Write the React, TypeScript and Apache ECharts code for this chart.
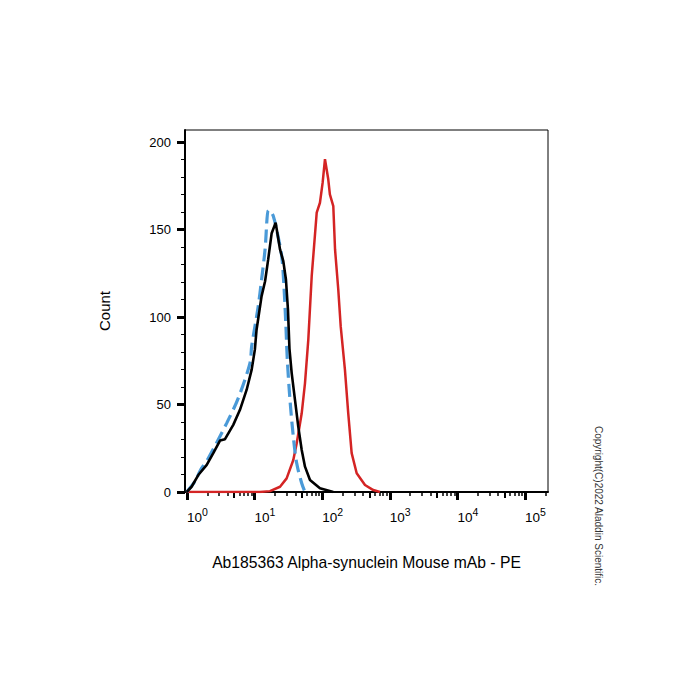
import React, { useEffect, useRef } from "react";
import * as echarts from "echarts";

// ---- data ----
const blackX = [0.99, 1.17, 1.47, 1.96, 2.45, 3.08, 3.65, 4.84, 6.08, 7.64, 9.06, 10.1, 10.7, 12.7, 14.3, 15.9, 17.9, 20.5, 23.8, 26.6, 29.1, 31.2, 32.8, 35.4, 39.6, 44.3, 49.8, 55.7, 66.0, 92.7, 146];
const blackY = [0, 3, 9.7, 15.5, 22.2, 29.4, 30.2, 38.4, 47, 58.5, 70, 81.4, 92.8, 112, 120.5, 133, 148, 154, 138.7, 132, 121.5, 104, 82, 68, 52.7, 37.4, 24, 14.5, 6.9, 2.1, 0];

const blueX = [0.99, 1.31, 1.61, 2.05, 3.87, 5.74, 8.55, 9.06, 11.3, 12.7, 14.3, 16.0, 17.3, 18.9, 21.2, 25.2, 27.2, 29.1, 30.5, 33.4, 37.4, 42.0, 49.8, 55.7];
const blueY = [0, 6, 13, 19, 39.4, 53.7, 73.7, 83.3, 106, 121.5, 138.7, 161, 160.5, 157.8, 150, 134.8, 117.7, 94.7, 75.6, 52.7, 31.7, 16.4, 5, 0];

const redX = [0.99, 12.0, 16.9, 23.8, 29.8, 37.4, 42.0, 49.8, 55.7, 62.3, 70.0, 83.0, 92.7, 101.6, 110, 123, 130, 146, 155, 173, 188, 217, 243, 273, 324, 430, 570, 716];
const redY = [0, 0, 0.5, 3, 7.8, 18.3, 27.9, 45, 62.3, 87, 123.4, 159.7, 165.4, 176.9, 190.3, 178.8, 170.2, 163.5, 138.7, 115.8, 94.7, 70, 45, 22.2, 10.7, 4, 1.1, 0];

const xMajorTicks = [1, 10, 100, 1000, 10000, 100000];
const xMidTicks = [5, 50, 500, 5000, 50000];
const xMinorTicks = [2, 3, 4, 6, 7, 8, 9, 20, 30, 40, 60, 70, 80, 90, 200, 300, 400, 600, 700, 800, 900, 2000, 3000, 4000, 6000, 7000, 8000, 9000, 20000, 30000, 40000, 60000, 70000, 80000, 90000, 200000];
const yMajorTicks = [0, 50, 100, 150, 200];
const yMinorTicks = [10, 20, 30, 40, 60, 70, 80, 90, 110, 120, 130, 140, 160, 170, 180, 190];

const xTitle = "Ab185363 Alpha-synuclein Mouse mAb - PE";
const yTitle = "Count";
const copyright = "Copyright(C)2022 Aladdin Scientific.";

const FONT = "'Liberation Sans', Arial, Helvetica, sans-serif";
const X_MIN = 0.935;
const X_MAX = 219000;
const Y_MIN = 0;
const Y_MAX = 207;

const pairs = (xs: number[], ys: number[]) => xs.map((x, i) => [x, ys[i]]);

export default function App() {
  const ref = useRef<HTMLDivElement>(null);
  useEffect(() => {
    if (!ref.current) return;
    const chart = echarts.init(ref.current, null, { renderer: "svg" });
    const hiddenLog = (ticks: number[], len: number, w: number) => ({
      type: "log",
      logBase: 10,
      min: X_MIN,
      max: X_MAX,
      position: "bottom",
      axisLine: { show: false },
      axisLabel: { show: false },
      splitLine: { show: false },
      axisTick: { show: true, customValues: ticks, length: len, lineStyle: { color: "#000", width: w } },
    });
    chart.setOption({
      animation: false,
      backgroundColor: "#fff",
      grid: {
        left: 185,
        top: 130,
        right: 152,
        bottom: 208,
        show: true,
        borderColor: "#000",
        borderWidth: 1,
        backgroundColor: "transparent",
      },
      xAxis: [
        {
          type: "log",
          logBase: 10,
          min: X_MIN,
          max: X_MAX,
          position: "bottom",
          name: xTitle,
          nameLocation: "middle",
          nameGap: 62,
          nameTextStyle: { fontFamily: FONT, fontSize: 15.7, color: "#000" },
          axisLine: { show: true, lineStyle: { color: "#000", width: 2 } },
          splitLine: { show: false },
          axisTick: { show: true, customValues: xMajorTicks, length: 8, lineStyle: { color: "#000", width: 3 } },
          axisLabel: {
            show: true,
            customValues: xMajorTicks,
            margin: 14,
            align: "left",
            formatter: (v: number) => `{b|10}{s|${Math.round(Math.log10(v))}}`,
            rich: {
              b: { fontFamily: FONT, fontSize: 13.5, color: "#000", lineHeight: 22 },
              s: { fontFamily: FONT, fontSize: 10.5, color: "#000", lineHeight: 10, verticalAlign: "top" },
            },
          },
        },
        hiddenLog(xMidTicks, 6, 2),
        hiddenLog(xMinorTicks, 4, 1.5),
      ],
      yAxis: [
        {
          type: "value",
          min: Y_MIN,
          max: Y_MAX,
          position: "left",
          name: yTitle,
          nameLocation: "middle",
          nameGap: 73,
          nameTextStyle: { fontFamily: FONT, fontSize: 15, color: "#000" },
          axisLine: { show: true, lineStyle: { color: "#000", width: 2 } },
          splitLine: { show: false },
          axisTick: { show: true, customValues: yMajorTicks, length: 8, lineStyle: { color: "#000", width: 3 } },
          axisLabel: { show: true, customValues: yMajorTicks, margin: 14, fontFamily: FONT, fontSize: 13, color: "#000" },
        },
        {
          type: "value",
          min: Y_MIN,
          max: Y_MAX,
          position: "left",
          axisLine: { show: false },
          axisLabel: { show: false },
          splitLine: { show: false },
          axisTick: { show: true, customValues: yMinorTicks, length: 4, lineStyle: { color: "#000", width: 1 } },
        },
      ],
      graphic: [
        {
          type: "text",
          x: 598,
          y: 506,
          rotation: -Math.PI / 2,
          style: {
            text: copyright,
            fontFamily: FONT,
            fontSize: 10,
            fill: "#333",
            align: "center",
            verticalAlign: "middle",
          },
        },
      ],
      series: [
        {
          type: "line",
          name: "PE",
          xAxisIndex: 0,
          yAxisIndex: 0,
          data: pairs(redX, redY),
          showSymbol: false,
          lineStyle: { color: "#d42424", width: 2.5 },
          z: 3,
        },
        {
          type: "line",
          name: "isotype",
          xAxisIndex: 0,
          yAxisIndex: 0,
          data: pairs(blueX, blueY),
          showSymbol: false,
          smooth: 0.3,
          lineStyle: { color: "#4a9ad8", width: 3.2, type: [13, 6] },
          z: 4,
        },
        {
          type: "line",
          name: "blank",
          xAxisIndex: 0,
          yAxisIndex: 0,
          data: pairs(blackX, blackY),
          showSymbol: false,
          lineStyle: { color: "#000", width: 2.6 },
          z: 5,
        },
      ],
    });
    return () => chart.dispose();
  }, []);
  return (
    <div
      ref={ref}
      style={{ position: "fixed", left: 0, top: 0, width: 700, height: 700, background: "#fff" }}
    />
  );
}
